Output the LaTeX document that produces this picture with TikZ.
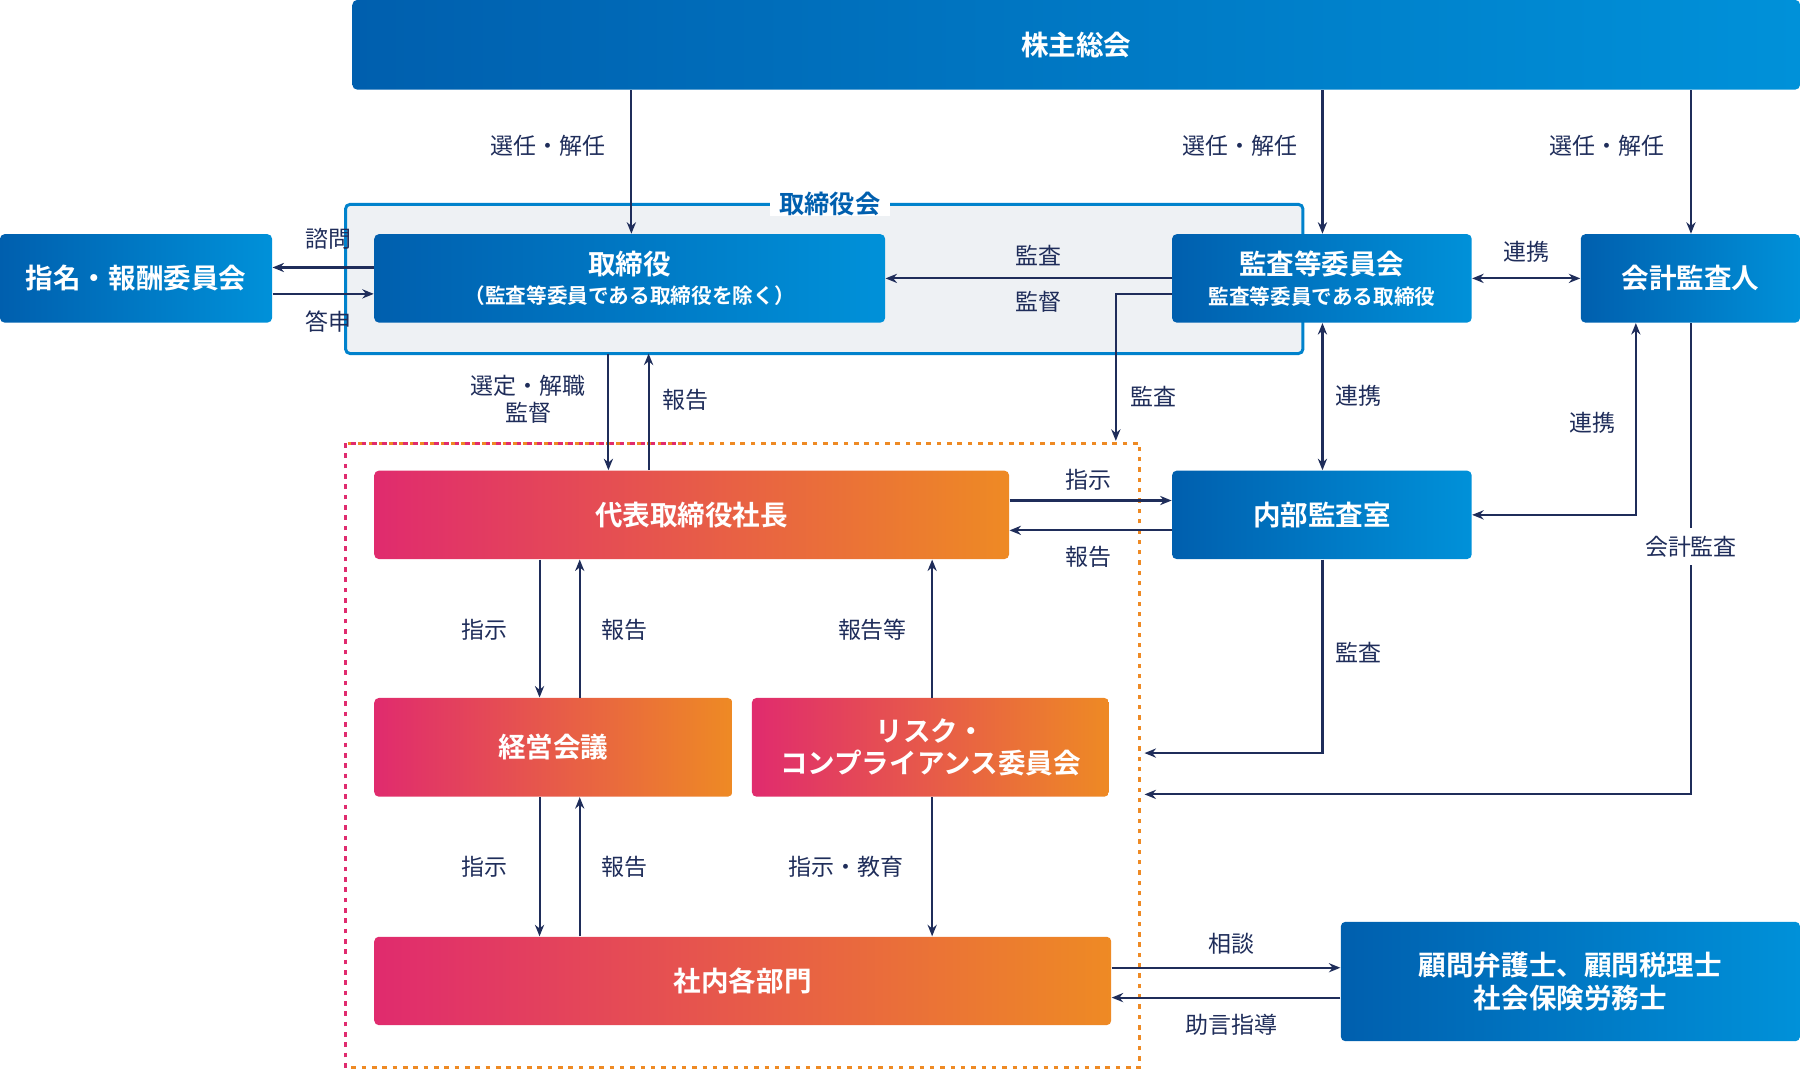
\documentclass[tikz,border=0pt]{standalone}
\usepackage{fontspec}
\setmainfont{Noto Sans CJK JP}
\newfontfamily\cjkb{Noto Sans CJK JP Bold}
\usetikzlibrary{arrows.meta,calc}
\definecolor{navy}{HTML}{1F2D5A}
\definecolor{blueL}{HTML}{005FAE}
\definecolor{blueR}{HTML}{0091D9}
\definecolor{pinkL}{HTML}{E02B6E}
\definecolor{orgR}{HTML}{EE8A24}
\definecolor{boardbg}{HTML}{EEF1F4}
\tikzset{
  bluebox/.style={rectangle,rounded corners=2pt,left color=blueL,right color=blueR,
    text=white,font=\cjkb\fontsize{12}{14}\selectfont,align=center,inner sep=0pt},
  orgbox/.style={rectangle,rounded corners=2pt,left color=pinkL,right color=orgR,
    text=white,font=\cjkb\fontsize{12}{14}\selectfont,align=center,inner sep=0pt},
  arr/.style={-{Stealth[length=5pt,width=4pt]},navy,line width=0.9pt},
  biarr/.style={{Stealth[length=5pt,width=4pt]}-{Stealth[length=5pt,width=4pt]},navy,line width=0.9pt},
  lbl/.style={text=navy,font=\fontsize{10}{12}\selectfont,align=center}
}
\begin{document}
\begin{tikzpicture}[x=0.5pt,y=-0.5pt]
  \useasboundingbox (0,0) rectangle (1568,932);
  % frames
  \draw[blueR!70!blueL,line width=1.3pt,fill=boardbg,rounded corners=2pt] (301,178) rectangle (1135,308);
  \node[fill=white,text=blueL,font=\cjkb\fontsize{11}{13}\selectfont,inner xsep=4pt,inner ysep=0pt] (boardlbl) at (723,178) {取締役会};
  \draw[orgR,line width=1.3pt,dash pattern=on 2pt off 2.5pt] (301,386) rectangle (993,930);
  \draw[pinkL,line width=1.3pt,dash pattern=on 2pt off 2.5pt] (301,930) -- (301,386) -- (600,386);
  % boxes
  \node[bluebox,minimum width=630.5pt,minimum height=39pt] (agm) at (937.5,39) {株主総会};
  \node[bluebox,minimum width=118.5pt,minimum height=38.5pt] (nom) at (118.5,242.5) {指名・報酬委員会};
  \node[bluebox,minimum width=222.5pt,minimum height=38.5pt] (dir) at (548.5,242.5)
     {取締役\\[-1pt]{\fontsize{9}{11}\selectfont（監査等委員である取締役を除く）}};
  \node[bluebox,minimum width=130.5pt,minimum height=38.5pt] (aud) at (1151.5,242.5)
     {監査等委員会\\[-1pt]{\fontsize{9}{11}\selectfont 監査等委員である取締役}};
  \node[bluebox,minimum width=95.5pt,minimum height=38.5pt] (acc) at (1472.5,242.5) {会計監査人};
  \node[orgbox,minimum width=276.5pt,minimum height=38.5pt] (ceo) at (602.5,448.5) {代表取締役社長};
  \node[bluebox,minimum width=130.5pt,minimum height=38.5pt] (ia) at (1151.5,448.5) {内部監査室};
  \node[orgbox,minimum width=156pt,minimum height=43pt] (mtg) at (482,651) {経営会議};
  \node[orgbox,minimum width=155.5pt,minimum height=43pt] (risk) at (810.5,651) {リスク・\\コンプライアンス委員会};
  \node[orgbox,minimum width=321pt,minimum height=38.5pt] (dept) at (647,854.5) {社内各部門};
  \node[bluebox,minimum width=200pt,minimum height=52pt] (adv) at (1368,855) {顧問弁護士、顧問税理士\\社会保険労務士};
  % helper coordinates
  \coordinate (xa) at (550,0);   \coordinate (xb) at (1152,0);  \coordinate (xc) at (1473,0);
  \coordinate (xd) at (530,0);   \coordinate (xe) at (565,0);   \coordinate (xf) at (470,0);
  \coordinate (xg) at (505,0);   \coordinate (xh) at (812,0);   \coordinate (xi) at (972,0);
  \coordinate (xj) at (1425,0);
  \coordinate (y1) at (0,233);   \coordinate (y2) at (0,256);   \coordinate (y3) at (0,436);
  \coordinate (y4) at (0,462);   \coordinate (y5) at (0,843);   \coordinate (y6) at (0,869);
  \coordinate (boardS) at (0,308); \coordinate (frameN) at (0,384);
  \coordinate (iaT) at (997,656);  \coordinate (accT) at (997,692);
  % shareholders
  \draw[arr] (agm.south -| xa) -- (dir.north -| xa);
  \draw[arr] (agm.south -| xb) -- (aud.north -| xb);
  \draw[arr] (agm.south -| xc) -- (acc.north -| xc);
  \node[lbl] at (477,127) {選任・解任};
  \node[lbl] at (1080,127) {選任・解任};
  \node[lbl] at (1400,127) {選任・解任};
  % board level
  \draw[arr] (dir.west |- y1) -- (nom.east |- y1);
  \draw[arr] (nom.east |- y2) -- (dir.west |- y2);
  \node[lbl] at (286,208) {諮問};
  \node[lbl] at (286,280) {答申};
  \draw[arr] (aud.west) -- (dir.east);
  \node[lbl] at (905,223) {監査};
  \node[lbl] at (905,263) {監督};
  \draw[biarr] (aud.east) -- (acc.west);
  \node[lbl] at (1330,219) {連携};
  \draw[arr] (aud.west |- y2) -| (xi |- frameN);
  \node[lbl] at (1005,345) {監査};
  \draw[biarr] (aud.south -| xb) -- (ia.north -| xb);
  \node[lbl] at (1183,345) {連携};
  \draw[biarr] (ia.east) -| (acc.south -| xj);
  \node[lbl] at (1387,368) {連携};
  \draw[arr] (acc.south -| xc) |- (accT);
  \node[lbl,fill=white,inner xsep=1pt] at (1473,476) {会計監査};
  \draw[arr] (ia.south -| xb) |- (iaT);
  \node[lbl] at (1183,568) {監査};
  % board to president
  \draw[arr] (xd |- boardS) -- (ceo.north -| xd);
  \draw[arr] (ceo.north -| xe) -- (xe |- boardS);
  \node[lbl,align=center] at (460,348) {選定・解職\\監督};
  \node[lbl] at (597,348) {報告};
  \draw[arr] (ceo.east |- y3) -- (ia.west |- y3);
  \draw[arr] (ia.west |- y4) -- (ceo.east |- y4);
  \node[lbl] at (948,418) {指示};
  \node[lbl] at (948,485) {報告};
  % inside company
  \draw[arr] (ceo.south -| xf) -- (mtg.north -| xf);
  \draw[arr] (mtg.north -| xg) -- (ceo.south -| xg);
  \node[lbl] at (422,549) {指示};
  \node[lbl] at (544,549) {報告};
  \draw[arr] (risk.north -| xh) -- (ceo.south -| xh);
  \node[lbl] at (760,549) {報告等};
  \draw[arr] (mtg.south -| xf) -- (dept.north -| xf);
  \draw[arr] (dept.north -| xg) -- (mtg.south -| xg);
  \node[lbl] at (422,755) {指示};
  \node[lbl] at (544,755) {報告};
  \draw[arr] (risk.south -| xh) -- (dept.north -| xh);
  \node[lbl] at (737,755) {指示・教育};
  % advisers
  \draw[arr] (dept.east |- y5) -- (adv.west |- y5);
  \draw[arr] (adv.west |- y6) -- (dept.east |- y6);
  \node[lbl] at (1073,822) {相談};
  \node[lbl] at (1073,893) {助言指導};
\end{tikzpicture}
\end{document}
